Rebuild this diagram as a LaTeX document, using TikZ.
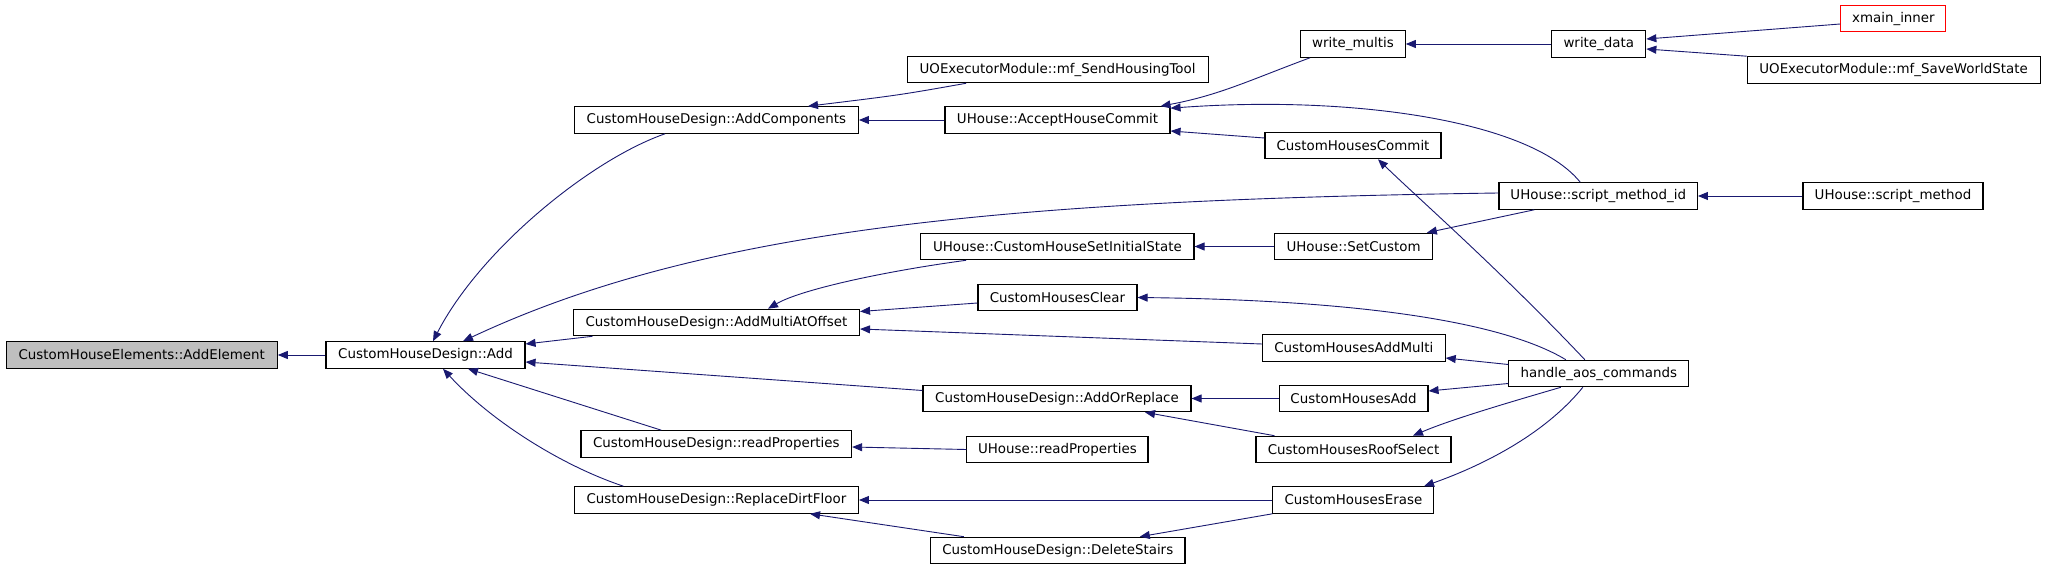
\documentclass[tikz,border=0pt]{standalone}
\usepackage{fontspec}
\setmainfont{DejaVu Sans}
\usetikzlibrary{arrows.meta}
\definecolor{edgecol}{HTML}{191970}
\definecolor{grayfill}{HTML}{BFBFBF}
\tikzset{
  fn/.style={draw=black, line width=1.1pt, fill=white, inner sep=0pt, minimum height=26.5pt,
    font=\fontsize{13.4pt}{16pt}\selectfont, anchor=center},
  edge/.style={draw=edgecol, line width=0.9pt, -{Triangle[length=10pt,width=8pt]}}
}
\begin{document}
\begin{tikzpicture}[x=1pt,y=-1pt]
\useasboundingbox[fill=white] (0,0) rectangle (2045,569);
% nodes
\node[fn, fill=grayfill, minimum width=271pt] (ae) at (141.75,355) {CustomHouseElements::AddElement};
\node[fn, minimum width=199pt] (add) at (425.5,355) {CustomHouseDesign::Add};
\node[fn, minimum width=284pt] (acomp) at (716.4,120) {CustomHouseDesign::AddComponents};
\node[fn, minimum width=301pt] (send) at (1057.6,69.5) {UOExecutorModule::mf\_SendHousingTool};
\node[fn, minimum width=225pt] (accept) at (1057.5,120) {UHouse::AcceptHouseCommit};
\node[fn, minimum width=104.5pt] (wmult) at (1353,44) {write\_multis};
\node[fn, minimum width=94pt] (wdata) at (1598.8,44) {write\_data};
\node[fn, draw=red, minimum width=105pt] (xmain) at (1893.4,18.5) {xmain\_inner};
\node[fn, minimum width=293pt] (save) at (1893.6,70) {UOExecutorModule::mf\_SaveWorldState};
\node[fn, minimum width=176pt] (commit) at (1353,145.5) {CustomHousesCommit};
\node[fn, minimum width=198.4pt] (smid) at (1598.2,196) {UHouse::script\_method\_id};
\node[fn, minimum width=180pt] (sm) at (1893,196) {UHouse::script\_method};
\node[fn, minimum width=157.4pt] (setc) at (1353.6,246.5) {UHouse::SetCustom};
\node[fn, minimum width=273.2pt] (csis) at (1057.4,246.5) {UHouse::CustomHouseSetInitialState};
\node[fn, minimum width=159pt] (clear) at (1057.5,297.5) {CustomHousesClear};
\node[fn, minimum width=286pt] (amao) at (716.5,322.5) {CustomHouseDesign::AddMultiAtOffset};
\node[fn, minimum width=182.7pt] (addmulti) at (1353.8,348) {CustomHousesAddMulti};
\node[fn, minimum width=180pt] (haos) at (1598.8,373.5) {handle\_aos\_commands};
\node[fn, minimum width=148.8pt] (chadd) at (1353.6,398.5) {CustomHousesAdd};
\node[fn, minimum width=268pt] (aor) at (1057,398.5) {CustomHouseDesign::AddOrReplace};
\node[fn, minimum width=270.6pt] (rp) at (716.3,444) {CustomHouseDesign::readProperties};
\node[fn, minimum width=181.2pt] (urp) at (1057.4,449.5) {UHouse::readProperties};
\node[fn, minimum width=195pt] (roof) at (1353.5,449.5) {CustomHousesRoofSelect};
\node[fn, minimum width=284pt] (rdf) at (716.4,500) {CustomHouseDesign::ReplaceDirtFloor};
\node[fn, minimum width=161pt] (erase) at (1353.4,500) {CustomHousesErase};
\node[fn, minimum width=254.4pt] (del) at (1057.8,550.5) {CustomHouseDesign::DeleteStairs};
% edges
\draw[edge] (add.west) -- (ae.east);
\draw[edge] ([xshift=-51.4pt]acomp.south) .. controls (590,160) and (480,250) .. ([xshift=7.5pt]add.north);
\draw[edge] ([yshift=3pt]smid.west) .. controls (1000,200) and (700,230) .. ([xshift=37.5pt]add.north);
\draw[edge] ([xshift=19.5pt]amao.south west) -- ([yshift=11pt]add.east);
\draw[edge] ([yshift=8pt]aor.west) -- ([yshift=-7pt]add.east);
\draw[edge] ([xshift=-55pt]rp.north) -- ([xshift=42.5pt]add.south);
\draw[edge] ([xshift=-93pt]rdf.north) .. controls (560,465) and (490,420) .. ([xshift=17.5pt]add.south);
\draw[edge] ([xshift=-91.6pt]send.south) .. controls (900,95) .. ([xshift=91.6pt]acomp.north);
\draw[edge] (accept.west) -- (acomp.east);
\draw[edge] ([xshift=-43pt]wmult.south) .. controls (1250,80) and (1220,95) .. ([xshift=-10pt]accept.north east);
\draw[edge] ([xshift=-18pt]smid.north) .. controls (1530,120) and (1350,95) .. ([yshift=-2pt]accept.north east);
\draw[edge] ([yshift=7.5pt]commit.west) -- ([yshift=-11pt]accept.east);
\draw[edge] (wdata.west) -- (wmult.east);
\draw[edge] ([yshift=-5.5pt]xmain.west) -- ([yshift=5pt]wdata.east);
\draw[edge] (save.north west) -- ([yshift=-5pt]wdata.east);
\draw[edge] ([xshift=-14pt]haos.north) .. controls (1500,270) and (1420,200) .. ([xshift=25pt]commit.south);
\draw[edge] (sm.west) -- (smid.east);
\draw[edge] ([xshift=-64pt]smid.south) -- ([xshift=-6pt]setc.north east);
\draw[edge] (setc.west) -- (csis.east);
\draw[edge] ([xshift=-91.4pt]csis.south) .. controls (880,272) and (800,290) .. ([xshift=51.5pt]amao.north);
\draw[edge] ([yshift=-5.5pt]clear.west) -- ([yshift=11pt]amao.east);
\draw[edge] ([xshift=-33pt]haos.north) .. controls (1500,320) and (1350,300) .. (clear.east);
\draw[edge] ([yshift=4pt]addmulti.west) -- ([yshift=-6.5pt]amao.east);
\draw[edge] ([yshift=9pt]haos.west) -- ([yshift=-10pt]addmulti.east);
\draw[edge] ([yshift=-10pt]haos.west) -- ([yshift=7.5pt]chadd.east);
\draw[edge] ([xshift=-38pt]haos.south) .. controls (1500,405) and (1450,420) .. ([xshift=59.5pt]roof.north);
\draw[edge] ([xshift=-16pt]haos.south) .. controls (1540,440) and (1470,470) .. ([xshift=70.6pt]erase.north);
\draw[edge] (chadd.west) -- (aor.east);
\draw[edge] ([xshift=19pt]roof.north west) -- ([xshift=88pt]aor.south);
\draw[edge] (urp.west) -- ([yshift=-3pt]rp.east);
\draw[edge] (erase.west) -- (rdf.east);
\draw[edge] ([xshift=-94pt]del.north) -- ([xshift=93.6pt]rdf.south);
\draw[edge] (erase.south west) -- ([xshift=82pt]del.north);
\end{tikzpicture}
\end{document}
